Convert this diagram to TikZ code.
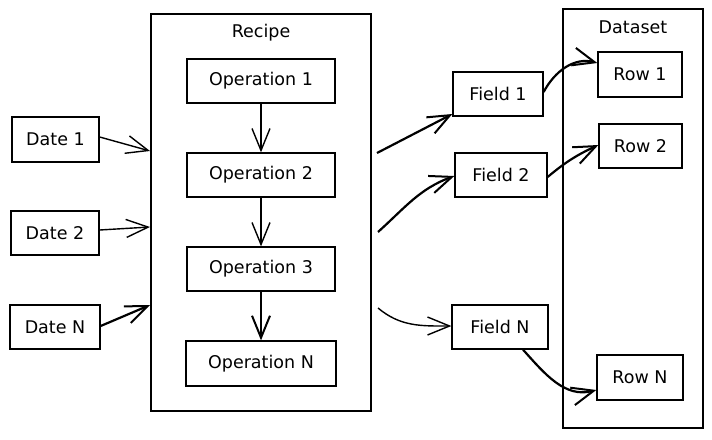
\documentclass[tikz,border=0pt]{standalone}
\usepackage{fontspec}
\setmainfont{DejaVu Sans}
\usetikzlibrary{arrows.meta}
\begin{document}
\begin{tikzpicture}[x=1pt,y=-1pt,
  box/.style={draw,line width=1.3pt,inner sep=0pt,font=\fontsize{17.5}{20}\selectfont},
  frame/.style={draw,line width=1.3pt,inner sep=0pt},
  lbl/.style={font=\fontsize{17.5}{20}\selectfont},
  arr/.style={line width=1.4pt,-{Straight Barb[length=22pt,width=18pt,line width=1.4pt]}},
  thick arr/.style={line width=2.2pt,-{Straight Barb[length=22pt,width=18pt,line width=2pt]}}]
\useasboundingbox (0,0) rectangle (712,439);
% containers
\node[frame,minimum width=220pt,minimum height=397pt] (recipe) at (261,212.5) {};
\node[lbl] (recipetitle) at (261,33) {Recipe};
\node[frame,minimum width=140pt,minimum height=419pt] (dataset) at (633,218.5) {};
\node[lbl] (datasettitle) at (633,27) {Dataset};
% operations
\node[box,minimum width=148pt,minimum height=44pt] (op1) at (261,81) {Operation 1};
\node[box,minimum width=148pt,minimum height=44pt] (op2) at (261,175) {Operation 2};
\node[box,minimum width=148pt,minimum height=44pt] (op3) at (261,269) {Operation 3};
\node[box,minimum width=150pt,minimum height=45pt] (opN) at (261,363.5) {Operation N};
% dates
\node[box,minimum width=87pt,minimum height=45pt] (d1) at (55.5,139.5) {Date 1};
\node[box,minimum width=88pt,minimum height=44pt] (d2) at (55,233) {Date 2};
\node[box,minimum width=90pt,minimum height=44pt] (dN) at (55,327) {Date N};
% fields
\node[box,minimum width=90pt,minimum height=44pt] (f1) at (498,94) {Field 1};
\node[box,minimum width=92pt,minimum height=44pt] (f2) at (501,175) {Field 2};
\node[box,minimum width=96pt,minimum height=44pt] (fN) at (500,327) {Field N};
% rows
\node[box,minimum width=84pt,minimum height=45pt] (r1) at (640,74.5) {Row 1};
\node[box,minimum width=83pt,minimum height=44pt] (r2) at (640.5,146) {Row 2};
\node[box,minimum width=86pt,minimum height=45pt] (rN) at (640,377.5) {Row N};
% anchor points on the recipe frame
\coordinate (in1) at (150,151);
\coordinate (in2) at (150,227);
\coordinate (inN) at (150,305);
\coordinate (out1) at (377,153);
\coordinate (out2) at (378,232);
\coordinate (outN) at (378,308);
% inputs
\draw[arr] (d1.east |- 0,137) -- (in1);
\draw[arr] (d2.east |- 0,230) -- (in2);
\draw[thick arr] (dN.east |- 0,326) -- (inN);
% operations chain
\draw[arr] (op1) -- (op2);
\draw[arr] (op2) -- (op3);
\draw[thick arr] (op3) -- (opN);
% outputs
\draw[thick arr] (out1) -- (f1.west |- 0,114);
\draw[thick arr] (out2) to[out=42,in=200] (f2.west |- 0,176);
\draw[arr] (outN) to[out=-40,in=180] (fN.west |- 0,326);
% rows
\draw[thick arr] (f1.east |- 0,92) to[out=62,in=165] (r1.west |- 0,63);
\draw[thick arr] (f2.east |- 0,177) to[out=40,in=205] (r2.west |- 0,145);
\draw[thick arr] (fN.south -| 523,0) to[out=-48,in=195] (rN.west |- 0,390);
\end{tikzpicture}
\end{document}
